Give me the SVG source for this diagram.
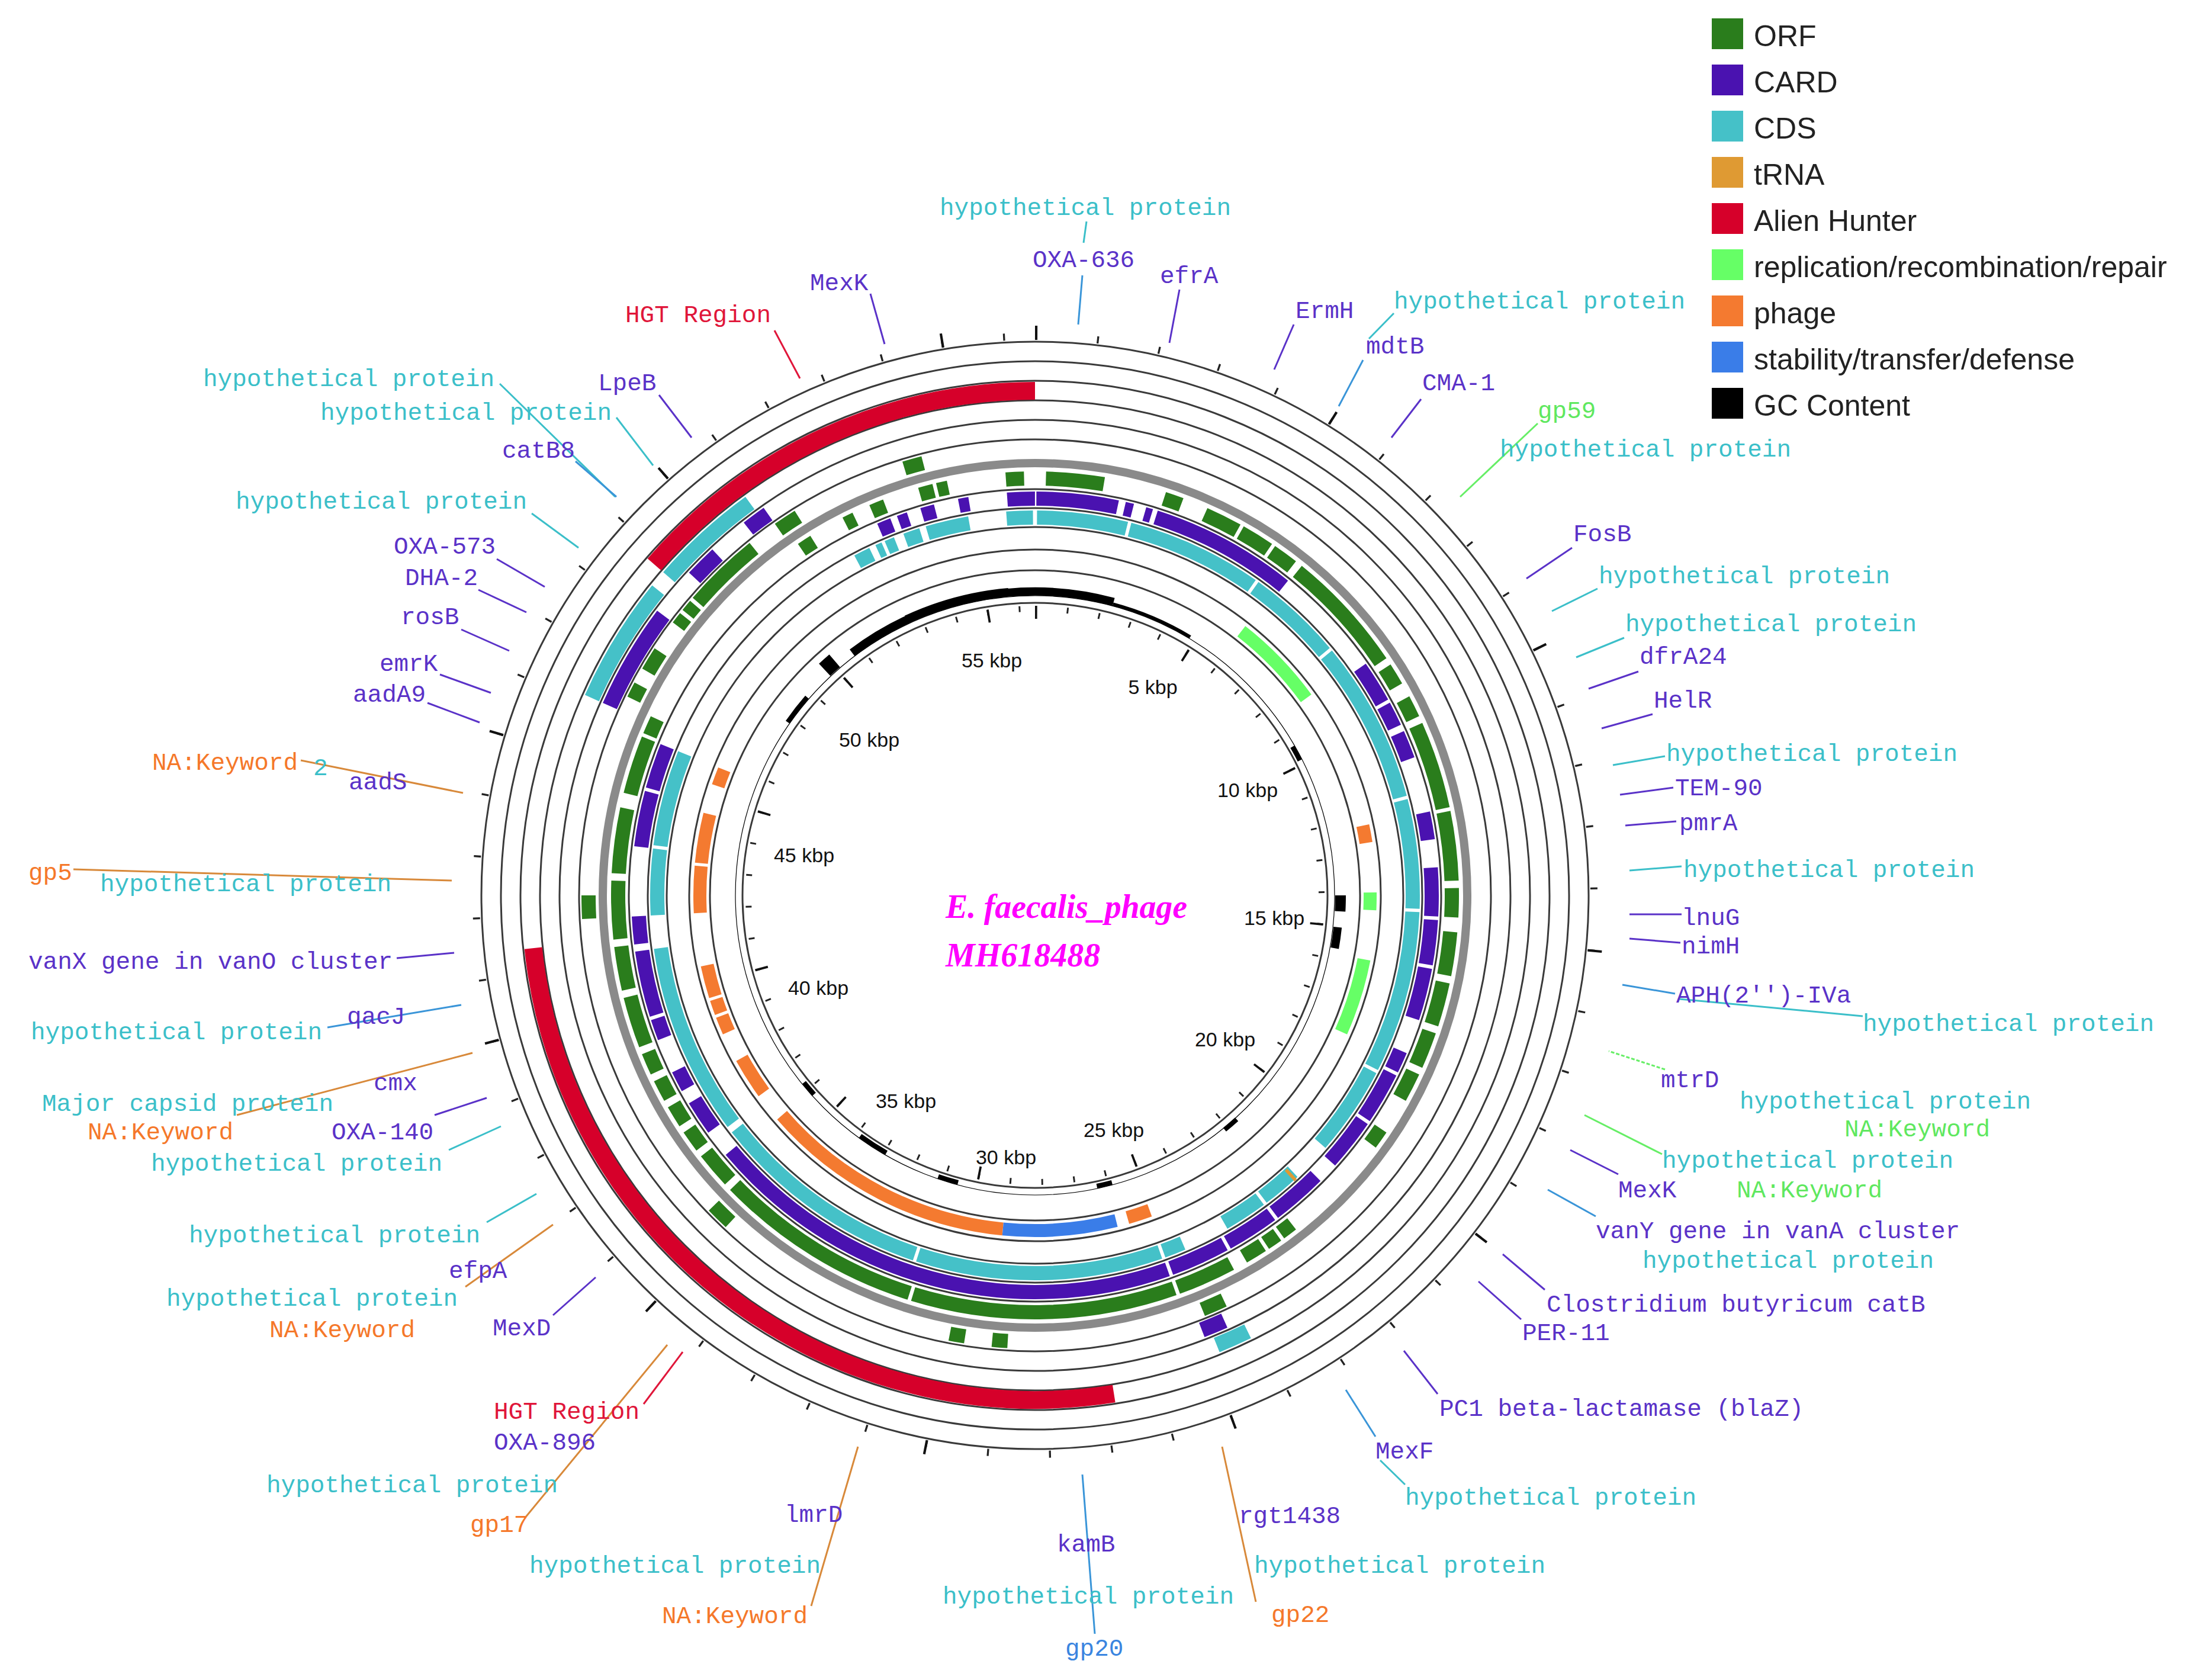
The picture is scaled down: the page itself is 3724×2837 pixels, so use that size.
<svg xmlns="http://www.w3.org/2000/svg" width="3724" height="2837" viewBox="0 0 3724 2837">
<style>
.ring{fill:none;stroke:#3a3a3a;stroke-width:3}
.f{fill:none}
.red{stroke:#d6002a;stroke-width:30}
.cds{stroke:#45c1c8;stroke-width:24}
.card{stroke:#4a12b0;stroke-width:24}
.orf{stroke:#2a7d1c;stroke-width:24}
.oc{stroke:#45c1c8;stroke-width:26}
.op{stroke:#4a12b0;stroke-width:26}
.og{stroke:#2a7d1c;stroke-width:24}
.ph{stroke:#f47a30;stroke-width:22}
.rp{stroke:#66ff66;stroke-width:22}
.st{stroke:#3a7de8;stroke-width:22}
.gc{stroke:#000}
.t{font-family:"Liberation Mono","DejaVu Sans Mono",monospace;font-size:41px}
.cy{fill:#3bbfc9}.pu{fill:#5a32c8}.rd{fill:#e0163a}.or{fill:#f5782a}.gr{fill:#5fe85f}.bl{fill:#3a85e0}
.l{stroke-width:3;fill:none}
.lc{stroke:#3bbfc9}.lp{stroke:#5a32c8}.lr{stroke:#e0163a}.lo{stroke:#d8893a}.lg{stroke:#66ee66}.lb{stroke:#3a95d8}
.k{font-family:"Liberation Sans",Arial,sans-serif;font-size:34px;fill:#111;text-anchor:middle}
.lg1{font-family:"Liberation Sans",Arial,sans-serif;font-size:50px;fill:#222}
</style>
<rect width="3724" height="2837" fill="#fff"/>
<g id="map" transform="translate(1748,1512)">
<g id="rings">
<circle class="ring" r="935"/><circle class="ring" r="902"/><circle class="ring" r="869"/><circle class="ring" r="836"/><circle class="ring" r="803"/><circle class="ring" r="770"/>
<circle r="730" fill="none" stroke="#8a8a8a" stroke-width="14"/>
<circle class="ring" r="686" stroke-width="2"/><circle class="ring" r="654"/><circle class="ring" r="622"/><circle class="ring" r="584"/><circle class="ring" r="549"/><circle class="ring" r="494"/>
<circle r="944" fill="none" stroke="#222" stroke-width="12" pathLength="360" stroke-dasharray="0.2 6.17" transform="rotate(-90)"/>
<circle r="950" fill="none" stroke="#111" stroke-width="24" pathLength="360" stroke-dasharray="0.25 31.6" transform="rotate(-90)"/>
<circle r="484" fill="none" stroke="#222" stroke-width="10" pathLength="360" stroke-dasharray="0.35 6.02" transform="rotate(-90)"/>
<circle r="478" fill="none" stroke="#111" stroke-width="22" pathLength="360" stroke-dasharray="0.45 31.4" transform="rotate(-90)"/>
</g>
<g id="alien" class="f red">
<circle r="852" pathLength="360" stroke-dasharray="49 400" transform="rotate(221)"/>
<circle r="852" pathLength="360" stroke-dasharray="93 400" transform="rotate(81)"/>
</g>
<g id="outer" class="f">
<g class="oc">
<circle r="819" pathLength="360" stroke-dasharray="15 400" transform="rotate(204)"/>
<circle r="819" pathLength="360" stroke-dasharray="13 400" transform="rotate(221)"/>
<circle r="819" pathLength="360" stroke-dasharray="4 400" transform="rotate(64)"/>
</g>
<g class="op">
<circle r="786" pathLength="360" stroke-dasharray="13 400" transform="rotate(204)"/>
<circle r="786" pathLength="360" stroke-dasharray="4 400" transform="rotate(223)"/>
<circle r="786" pathLength="360" stroke-dasharray="3 400" transform="rotate(232)"/>
<circle r="786" pathLength="360" stroke-dasharray="3 400" transform="rotate(66)"/>
</g>
<g class="og">
<circle r="754" pathLength="360" stroke-dasharray="2 400" transform="rotate(206)"/>
<circle r="754" pathLength="360" stroke-dasharray="3 400" transform="rotate(210)"/>
<circle r="754" pathLength="360" stroke-dasharray="1.5 400" transform="rotate(217)"/>
<circle r="754" pathLength="360" stroke-dasharray="1.5 400" transform="rotate(219)"/>
<circle r="754" pathLength="360" stroke-dasharray="10 400" transform="rotate(221)"/>
<circle r="754" pathLength="360" stroke-dasharray="3 400" transform="rotate(235)"/>
<circle r="754" pathLength="360" stroke-dasharray="2.5 400" transform="rotate(253)"/>
<circle r="754" pathLength="360" stroke-dasharray="3 400" transform="rotate(65)"/>
<circle r="754" pathLength="360" stroke-dasharray="2 400" transform="rotate(93.5)"/>
<circle r="754" pathLength="360" stroke-dasharray="2 400" transform="rotate(99)"/>
<circle r="754" pathLength="360" stroke-dasharray="3 400" transform="rotate(133)"/>
<circle r="754" pathLength="360" stroke-dasharray="3 400" transform="rotate(177)"/>
</g>
</g>
<g id="orf" class="f orf">
<circle r="704" pathLength="360" stroke-dasharray="2.5 400" transform="rotate(266)"/>
<circle r="704" pathLength="360" stroke-dasharray="8 400" transform="rotate(-88.5)"/>
<circle r="704" pathLength="360" stroke-dasharray="2.5 400" transform="rotate(-72)"/>
<circle r="704" pathLength="360" stroke-dasharray="5 400" transform="rotate(-66)"/>
<circle r="704" pathLength="360" stroke-dasharray="4.5 400" transform="rotate(-60.5)"/>
<circle r="704" pathLength="360" stroke-dasharray="3.5 400" transform="rotate(-55.5)"/>
<circle r="704" pathLength="360" stroke-dasharray="17 400" transform="rotate(-51)"/>
<circle r="704" pathLength="360" stroke-dasharray="3 400" transform="rotate(-33)"/>
<circle r="704" pathLength="360" stroke-dasharray="3 400" transform="rotate(-28)"/>
<circle r="704" pathLength="360" stroke-dasharray="12 400" transform="rotate(-24)"/>
<circle r="704" pathLength="360" stroke-dasharray="9.5 400" transform="rotate(-11.5)"/>
<circle r="704" pathLength="360" stroke-dasharray="4 400" transform="rotate(-1)"/>
<circle r="704" pathLength="360" stroke-dasharray="6 400" transform="rotate(5)"/>
<circle r="704" pathLength="360" stroke-dasharray="6 400" transform="rotate(12)"/>
<circle r="704" pathLength="360" stroke-dasharray="5 400" transform="rotate(19)"/>
<circle r="704" pathLength="360" stroke-dasharray="4 400" transform="rotate(25)"/>
<circle r="704" pathLength="360" stroke-dasharray="2.5 400" transform="rotate(34)"/>
<circle r="704" pathLength="360" stroke-dasharray="2 400" transform="rotate(52)"/>
<circle r="704" pathLength="360" stroke-dasharray="2 400" transform="rotate(54.5)"/>
<circle r="704" pathLength="360" stroke-dasharray="3 400" transform="rotate(57)"/>
<circle r="704" pathLength="360" stroke-dasharray="8 400" transform="rotate(62)"/>
<circle r="704" pathLength="360" stroke-dasharray="36.5 400" transform="rotate(70.5)"/>
<circle r="704" pathLength="360" stroke-dasharray="28.5 400" transform="rotate(107.5)"/>
<circle r="704" pathLength="360" stroke-dasharray="5 400" transform="rotate(137)"/>
<circle r="704" pathLength="360" stroke-dasharray="3 400" transform="rotate(143)"/>
<circle r="704" pathLength="360" stroke-dasharray="3 400" transform="rotate(147)"/>
<circle r="704" pathLength="360" stroke-dasharray="3 400" transform="rotate(151)"/>
<circle r="704" pathLength="360" stroke-dasharray="3 400" transform="rotate(155)"/>
<circle r="704" pathLength="360" stroke-dasharray="7 400" transform="rotate(159)"/>
<circle r="704" pathLength="360" stroke-dasharray="6 400" transform="rotate(167)"/>
<circle r="704" pathLength="360" stroke-dasharray="8 400" transform="rotate(174)"/>
<circle r="704" pathLength="360" stroke-dasharray="9 400" transform="rotate(183)"/>
<circle r="704" pathLength="360" stroke-dasharray="8 400" transform="rotate(194)"/>
<circle r="704" pathLength="360" stroke-dasharray="2.5 400" transform="rotate(202.5)"/>
<circle r="704" pathLength="360" stroke-dasharray="2 400" transform="rotate(236)"/>
<circle r="704" pathLength="360" stroke-dasharray="1.5 400" transform="rotate(243)"/>
<circle r="704" pathLength="360" stroke-dasharray="2 400" transform="rotate(247)"/>
<circle r="704" pathLength="360" stroke-dasharray="2 400" transform="rotate(254)"/>
<circle r="704" pathLength="360" stroke-dasharray="1.5 400" transform="rotate(256.5)"/>
</g>
<g id="card" class="f card">
<circle r="670" pathLength="360" stroke-dasharray="4 400" transform="rotate(266)"/>
<circle r="670" pathLength="360" stroke-dasharray="11.8 400" transform="rotate(-89.8)"/>
<circle r="670" pathLength="360" stroke-dasharray="1.2 400" transform="rotate(-77)"/>
<circle r="670" pathLength="360" stroke-dasharray="1 400" transform="rotate(-74)"/>
<circle r="670" pathLength="360" stroke-dasharray="21.1 400" transform="rotate(-72.3)"/>
<circle r="670" pathLength="360" stroke-dasharray="6 400" transform="rotate(-35)"/>
<circle r="670" pathLength="360" stroke-dasharray="3.5 400" transform="rotate(-28.5)"/>
<circle r="670" pathLength="360" stroke-dasharray="4 400" transform="rotate(-24)"/>
<circle r="670" pathLength="360" stroke-dasharray="4 400" transform="rotate(-12)"/>
<circle r="670" pathLength="360" stroke-dasharray="7 400" transform="rotate(-4)"/>
<circle r="670" pathLength="360" stroke-dasharray="6.5 400" transform="rotate(3.5)"/>
<circle r="670" pathLength="360" stroke-dasharray="7.5 400" transform="rotate(10.5)"/>
<circle r="670" pathLength="360" stroke-dasharray="3 400" transform="rotate(23)"/>
<circle r="670" pathLength="360" stroke-dasharray="7.5 400" transform="rotate(26.5)"/>
<circle r="670" pathLength="360" stroke-dasharray="7.5 400" transform="rotate(34.5)"/>
<circle r="670" pathLength="360" stroke-dasharray="8 400" transform="rotate(45)"/>
<circle r="670" pathLength="360" stroke-dasharray="7.5 400" transform="rotate(53.5)"/>
<circle r="670" pathLength="360" stroke-dasharray="8.5 400" transform="rotate(61.5)"/>
<circle r="670" pathLength="360" stroke-dasharray="69.5 400" transform="rotate(70.5)"/>
<circle r="670" pathLength="360" stroke-dasharray="5 400" transform="rotate(144)"/>
<circle r="670" pathLength="360" stroke-dasharray="3 400" transform="rotate(151)"/>
<circle r="670" pathLength="360" stroke-dasharray="3 400" transform="rotate(159)"/>
<circle r="670" pathLength="360" stroke-dasharray="9.5 400" transform="rotate(162.5)"/>
<circle r="670" pathLength="360" stroke-dasharray="4 400" transform="rotate(173)"/>
<circle r="670" pathLength="360" stroke-dasharray="8 400" transform="rotate(187)"/>
<circle r="670" pathLength="360" stroke-dasharray="6.5 400" transform="rotate(195.5)"/>
<circle r="670" pathLength="360" stroke-dasharray="2 400" transform="rotate(247)"/>
<circle r="670" pathLength="360" stroke-dasharray="1.5 400" transform="rotate(250)"/>
<circle r="670" pathLength="360" stroke-dasharray="2 400" transform="rotate(253.5)"/>
<circle r="670" pathLength="360" stroke-dasharray="1.5 400" transform="rotate(259)"/>
</g>
<g id="cds" class="f cds">
<circle r="638" pathLength="360" stroke-dasharray="2.5 400" transform="rotate(242)"/>
<circle r="638" pathLength="360" stroke-dasharray="1 400" transform="rotate(245.5)"/>
<circle r="638" pathLength="360" stroke-dasharray="1.5 400" transform="rotate(247)"/>
<circle r="638" pathLength="360" stroke-dasharray="2.5 400" transform="rotate(250)"/>
<circle r="638" pathLength="360" stroke-dasharray="6.5 400" transform="rotate(253.5)"/>
<circle r="638" pathLength="360" stroke-dasharray="4 400" transform="rotate(265.7)"/>
<circle r="638" pathLength="360" stroke-dasharray="13.7 400" transform="rotate(-89.7)"/>
<circle r="638" pathLength="360" stroke-dasharray="20.5 400" transform="rotate(-75.5)"/>
<circle r="638" pathLength="360" stroke-dasharray="14.5 400" transform="rotate(-54.5)"/>
<circle r="638" pathLength="360" stroke-dasharray="24.5 400" transform="rotate(-39.5)"/>
<circle r="638" pathLength="360" stroke-dasharray="16.5 400" transform="rotate(-14.5)"/>
<circle r="638" pathLength="360" stroke-dasharray="24.5 400" transform="rotate(2.5)"/>
<circle r="638" pathLength="360" stroke-dasharray="13.5 400" transform="rotate(27.5)"/>
<circle r="638" pathLength="360" stroke-dasharray="6 400" transform="rotate(47)"/>
<circle r="638" pathLength="360" stroke-dasharray="6.5 400" transform="rotate(53.5)"/>
<circle r="638" pathLength="360" stroke-dasharray="3.2 400" transform="rotate(67)"/>
<circle r="638" pathLength="360" stroke-dasharray="37.3 400" transform="rotate(70.7)"/>
<circle r="638" pathLength="360" stroke-dasharray="33.5 400" transform="rotate(108.5)"/>
<circle r="638" pathLength="360" stroke-dasharray="29 400" transform="rotate(143)"/>
<circle r="638" pathLength="360" stroke-dasharray="10 400" transform="rotate(177)"/>
<circle r="638" pathLength="360" stroke-dasharray="14.5 400" transform="rotate(187.5)"/>
</g>
<g id="trna" class="f"><circle r="640" stroke="#df9a33" stroke-width="24" pathLength="360" stroke-dasharray="0.5 400" transform="rotate(47.3)"/></g>
<g id="phage" class="f">
<g class="ph">
<circle r="566" pathLength="360" stroke-dasharray="4 400" transform="rotate(70)"/>
<circle r="566" pathLength="360" stroke-dasharray="43.5 400" transform="rotate(95.5)"/>
<circle r="566" pathLength="360" stroke-dasharray="7 400" transform="rotate(144)"/>
<circle r="566" pathLength="360" stroke-dasharray="3 400" transform="rotate(156)"/>
<circle r="566" pathLength="360" stroke-dasharray="2.5 400" transform="rotate(159.5)"/>
<circle r="566" pathLength="360" stroke-dasharray="5.5 400" transform="rotate(162.5)"/>
<circle r="566" pathLength="360" stroke-dasharray="8 400" transform="rotate(177)"/>
<circle r="566" pathLength="360" stroke-dasharray="8.5 400" transform="rotate(185.5)"/>
<circle r="566" pathLength="360" stroke-dasharray="3 400" transform="rotate(199)"/>
<circle r="566" pathLength="360" stroke-dasharray="3 400" transform="rotate(-12)"/>
</g>
<circle class="st" r="566" pathLength="360" stroke-dasharray="19.5 400" transform="rotate(76)"/>
<g class="rp">
<circle r="566" pathLength="360" stroke-dasharray="16 400" transform="rotate(-52)"/>
<circle r="566" pathLength="360" stroke-dasharray="3 400" transform="rotate(-0.5)"/>
<circle r="566" pathLength="360" stroke-dasharray="13 400" transform="rotate(11)"/>
</g>
</g>
<g id="gc" class="f gc">
<circle r="506" stroke-width="1.2"/>
<circle r="513" stroke-width="14" pathLength="360" stroke-dasharray="52 400" transform="rotate(233)"/>
<circle r="516" stroke-width="10" pathLength="360" stroke-dasharray="20 400" transform="rotate(245)"/>
<circle r="521" stroke-width="28" pathLength="360" stroke-dasharray="2.5 400" transform="rotate(227)"/>
<circle r="510" stroke-width="8" pathLength="360" stroke-dasharray="6 400" transform="rotate(215)"/>
<circle r="509" stroke-width="6" pathLength="360" stroke-dasharray="16 400" transform="rotate(-75)"/>
<circle r="502" stroke-width="8" pathLength="360" stroke-dasharray="3 400" transform="rotate(-30)"/>
<circle r="516" stroke-width="18" pathLength="360" stroke-dasharray="3 400" transform="rotate(0)"/>
<circle r="514" stroke-width="14" pathLength="360" stroke-dasharray="4 400" transform="rotate(6)"/>
<circle r="509" stroke-width="8" pathLength="360" stroke-dasharray="3 400" transform="rotate(48)"/>
<circle r="502" stroke-width="8" pathLength="360" stroke-dasharray="3 400" transform="rotate(75)"/>
<circle r="502" stroke-width="8" pathLength="360" stroke-dasharray="4 400" transform="rotate(105)"/>
<circle r="502" stroke-width="8" pathLength="360" stroke-dasharray="6 400" transform="rotate(120)"/>
<circle r="502" stroke-width="8" pathLength="360" stroke-dasharray="3 400" transform="rotate(138)"/>
</g>
</g>
<g id="ticklabels">
<text class="k" x="1675" y="1127">55 kbp</text><text class="k" x="1947" y="1172">5 kbp</text>
<text class="k" x="2107" y="1346">10 kbp</text><text class="k" x="2152" y="1562">15 kbp</text>
<text class="k" x="2069" y="1767">20 kbp</text><text class="k" x="1881" y="1920">25 kbp</text>
<text class="k" x="1699" y="1966">30 kbp</text><text class="k" x="1530" y="1871">35 kbp</text>
<text class="k" x="1382" y="1680">40 kbp</text><text class="k" x="1358" y="1456">45 kbp</text>
<text class="k" x="1468" y="1261">50 kbp</text>
</g>
<g id="title" font-family="Liberation Serif,serif" font-weight="bold" font-style="italic" font-size="56" fill="#ff00ff">
<text x="1597" y="1550" textLength="408">E. faecalis_phage</text>
<text x="1597" y="1632">MH618488</text>
</g>
<g id="connectors" class="l">
<path class="lc" d="M1835,374L1830,410"/><path class="lb" d="M1828,465L1821,548"/>
<path class="lp" d="M1992,489L1975,579"/><path class="lp" d="M1470,496L1494,581"/>
<path class="lr" d="M1308,558L1351,639"/><path class="lp" d="M2185,548L2152,624"/>
<path class="lc" d="M2354,529L2312,572"/><path class="lb" d="M2302,608L2261,686"/>
<path class="lp" d="M2400,674L2350,739"/><path class="lg" d="M2597,715L2466,839"/>
<path class="lp" d="M2655,925L2578,977"/><path class="lc" d="M2698,994L2621,1032"/>
<path class="lc" d="M2743,1077L2662,1110"/><path class="lp" d="M2767,1134L2683,1163"/>
<path class="lp" d="M2791,1206L2705,1230"/><path class="lc" d="M2812,1277L2724,1292"/>
<path class="lp" d="M2826,1330L2736,1342"/><path class="lp" d="M2831,1387L2745,1394"/>
<path class="lc" d="M2840,1463L2752,1470"/><path class="lp" d="M2840,1544L2752,1544"/>
<path class="lp" d="M2838,1592L2752,1585"/><path class="lb" d="M2829,1678L2740,1663"/>
<path class="lc" d="M3146,1716L2836,1687"/><path class="lg" d="M2812,1806L2717,1775" stroke-dasharray="6 3"/>
<path class="lg" d="M2807,1949L2676,1883"/><path class="lp" d="M2733,1983L2652,1942"/>
<path class="lb" d="M2695,2054L2614,2009"/><path class="lp" d="M2609,2178L2538,2118"/>
<path class="lp" d="M2569,2228L2497,2164"/><path class="lp" d="M2428,2354L2371,2281"/>
<path class="lb" d="M2323,2426L2273,2347"/><path class="lc" d="M2373,2507L2331,2466"/>
<path class="lo" d="M2064,2443L2121,2705"/><path class="lb" d="M1828,2490L1849,2759"/>
<path class="lo" d="M1449,2443L1370,2712"/><path class="lo" d="M1127,2271L886,2564"/>
<path class="lr" d="M1153,2283L1087,2371"/><path class="lp" d="M934,2221L1006,2157"/>
<path class="lo" d="M934,2068L786,2173"/><path class="lc" d="M822,2064L906,2016"/>
<path class="lo" d="M400,1883L798,1778"/><path class="lp" d="M734,1883L822,1854"/>
<path class="lc" d="M758,1942L846,1902"/><path class="lb" d="M553,1735L779,1697"/>
<path class="lp" d="M670,1618L767,1609"/><path class="lo" d="M124,1468L763,1487"/>
<path class="lo" d="M508,1284L782,1339"/><path class="lp" d="M722,1187L810,1220"/>
<path class="lp" d="M743,1139L829,1170"/><path class="lp" d="M779,1063L860,1099"/>
<path class="lp" d="M808,996L889,1034"/><path class="lp" d="M839,944L920,991"/>
<path class="lc" d="M898,867L977,925"/><path class="lc" d="M844,648L1039,839"/>
<path class="lc" d="M1041,705L1103,786"/><path class="lb" d="M972,779L1041,839"/>
<path class="lp" d="M1113,667L1168,739"/>
</g>
<g id="labels" class="t">
<text class="cy" x="1587" y="363">hypothetical protein</text>
<text class="pu" x="1744" y="451">OXA-636</text>
<text class="pu" x="1959" y="478">efrA</text>
<text class="pu" x="1368" y="490">MexK</text>
<text class="rd" x="1056" y="544">HGT Region</text>
<text class="pu" x="2188" y="537">ErmH</text>
<text class="cy" x="2354" y="521">hypothetical protein</text>
<text class="pu" x="2307" y="597">mdtB</text>
<text class="pu" x="2402" y="659">CMA-1</text>
<text class="gr" x="2597" y="706">gp59</text>
<text class="cy" x="2533" y="771">hypothetical protein</text>
<text class="pu" x="2657" y="914">FosB</text>
<text class="cy" x="2700" y="985">hypothetical protein</text>
<text class="cy" x="2745" y="1066">hypothetical protein</text>
<text class="pu" x="2769" y="1121">dfrA24</text>
<text class="pu" x="2793" y="1195">HelR</text>
<text class="cy" x="2814" y="1285">hypothetical protein</text>
<text class="pu" x="2829" y="1343">TEM-90</text>
<text class="pu" x="2836" y="1402">pmrA</text>
<text class="cy" x="2843" y="1481">hypothetical protein</text>
<text class="pu" x="2840" y="1562">lnuG</text>
<text class="pu" x="2840" y="1610">nimH</text>
<text class="pu" x="2831" y="1693">APH(2'')-IVa</text>
<text class="cy" x="3146" y="1741">hypothetical protein</text>
<text class="pu" x="2805" y="1836">mtrD</text>
<text class="cy" x="2938" y="1872">hypothetical protein</text>
<text class="gr" x="3115" y="1919">NA:Keyword</text>
<text class="cy" x="2807" y="1972">hypothetical protein</text>
<text class="gr" x="2933" y="2022">NA:Keyword</text>
<text class="pu" x="2733" y="2022">MexK</text>
<text class="pu" x="2695" y="2091">vanY gene in vanA cluster</text>
<text class="cy" x="2774" y="2141">hypothetical protein</text>
<text class="pu" x="2612" y="2215">Clostridium butyricum catB</text>
<text class="pu" x="2571" y="2263">PER-11</text>
<text class="pu" x="2431" y="2391">PC1 beta-lactamase (blaZ)</text>
<text class="pu" x="2323" y="2463">MexF</text>
<text class="cy" x="2373" y="2541">hypothetical protein</text>
<text class="pu" x="2092" y="2572">rgt1438</text>
<text class="cy" x="2118" y="2656">hypothetical protein</text>
<text class="or" x="2147" y="2739">gp22</text>
<text class="pu" x="1785" y="2620">kamB</text>
<text class="cy" x="1592" y="2708">hypothetical protein</text>
<text class="bl" x="1799" y="2796">gp20</text>
<text class="pu" x="1325" y="2570">lmrD</text>
<text class="cy" x="894" y="2656">hypothetical protein</text>
<text class="or" x="1118" y="2741">NA:Keyword</text>
<text class="rd" x="834" y="2396">HGT Region</text>
<text class="pu" x="834" y="2448">OXA-896</text>
<text class="cy" x="450" y="2520">hypothetical protein</text>
<text class="or" x="794" y="2587">gp17</text>
<text class="pu" x="832" y="2255">MexD</text>
<text class="pu" x="758" y="2158">efpA</text>
<text class="cy" x="281" y="2205">hypothetical protein</text>
<text class="or" x="455" y="2258">NA:Keyword</text>
<text class="cy" x="319" y="2098">hypothetical protein</text>
<text class="cy" x="71" y="1876">Major capsid protein</text>
<text class="pu" x="631" y="1841">cmx</text>
<text class="or" x="148" y="1924">NA:Keyword</text>
<text class="pu" x="560" y="1924">OXA-140</text>
<text class="cy" x="255" y="1977">hypothetical protein</text>
<text class="pu" x="586" y="1729">qacJ</text>
<text class="cy" x="52" y="1755">hypothetical protein</text>
<text class="pu" x="48" y="1636">vanX gene in vanO cluster</text>
<text class="or" x="48" y="1486">gp5</text>
<text class="cy" x="169" y="1505">hypothetical protein</text>
<text class="or" x="257" y="1300">NA:Keyword</text>
<text class="cy" x="529" y="1309">2</text>
<text class="pu" x="589" y="1333">aadS</text>
<text class="pu" x="596" y="1185">aadA9</text>
<text class="pu" x="641" y="1133">emrK</text>
<text class="pu" x="677" y="1054">rosB</text>
<text class="pu" x="684" y="988">DHA-2</text>
<text class="pu" x="665" y="935">OXA-573</text>
<text class="cy" x="398" y="859">hypothetical protein</text>
<text class="cy" x="343" y="652">hypothetical protein</text>
<text class="cy" x="541" y="709">hypothetical protein</text>
<text class="pu" x="848" y="773">catB8</text>
<text class="pu" x="1010" y="659">LpeB</text>
</g>
<g id="legend">
<rect x="2891" y="31" width="53" height="52" fill="#2a7d1c"/><text class="lg1" x="2962" y="78">ORF</text>
<rect x="2891" y="109" width="53" height="52" fill="#4a12b0"/><text class="lg1" x="2962" y="156">CARD</text>
<rect x="2891" y="187" width="53" height="52" fill="#45c1c8"/><text class="lg1" x="2962" y="234">CDS</text>
<rect x="2891" y="265" width="53" height="52" fill="#df9a33"/><text class="lg1" x="2962" y="312">tRNA</text>
<rect x="2891" y="343" width="53" height="52" fill="#d6002a"/><text class="lg1" x="2962" y="390">Alien Hunter</text>
<rect x="2891" y="421" width="53" height="52" fill="#66ff66"/><text class="lg1" x="2962" y="468">replication/recombination/repair</text>
<rect x="2891" y="499" width="53" height="52" fill="#f47a30"/><text class="lg1" x="2962" y="546">phage</text>
<rect x="2891" y="577" width="53" height="52" fill="#3a7de8"/><text class="lg1" x="2962" y="624">stability/transfer/defense</text>
<rect x="2891" y="655" width="53" height="52" fill="#000"/><text class="lg1" x="2962" y="702">GC Content</text>
</g>
</svg>
